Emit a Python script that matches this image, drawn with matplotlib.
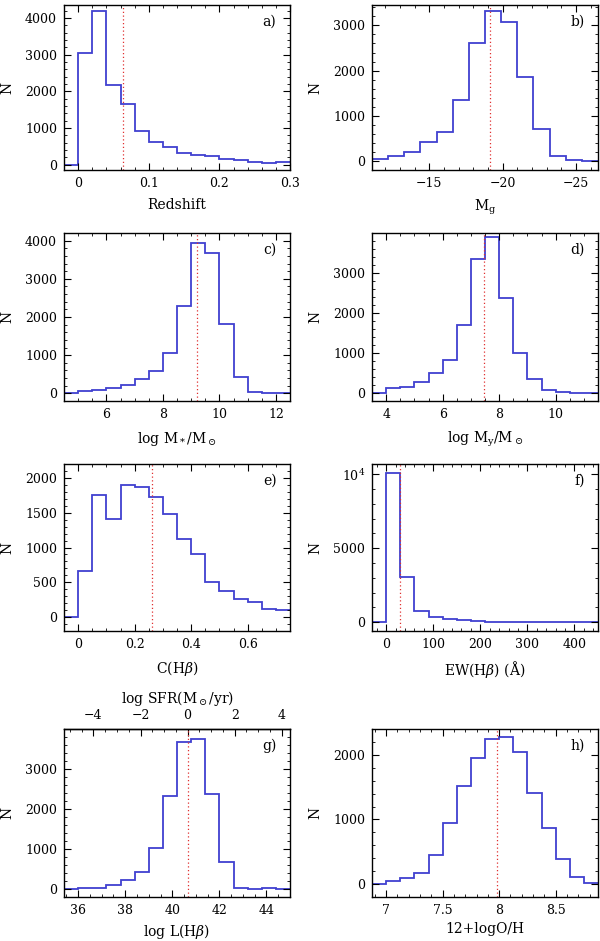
import numpy as np
import matplotlib
matplotlib.use('Agg')
import matplotlib.pyplot as plt
from matplotlib.ticker import MultipleLocator, FuncFormatter, FixedLocator

plt.rcParams['font.family'] = ['DejaVu Serif']
plt.rcParams['mathtext.fontset'] = 'dejavuserif'
plt.rcParams['xtick.direction'] = 'in'
plt.rcParams['ytick.direction'] = 'in'
plt.rcParams['xtick.top'] = True
plt.rcParams['ytick.right'] = True
plt.rcParams['xtick.major.size'] = 5
plt.rcParams['ytick.major.size'] = 5
plt.rcParams['xtick.minor.size'] = 2.5
plt.rcParams['ytick.minor.size'] = 2.5
plt.rcParams['xtick.labelsize'] = 9
plt.rcParams['ytick.labelsize'] = 9
plt.rcParams['axes.labelsize'] = 10
plt.rcParams['axes.linewidth'] = 1.0

# histogram counts (bins: start, width)
z_counts = [0, 3030, 4200, 2180, 1650, 920, 620, 480, 320, 270, 220, 150, 120, 70, 50, 60]
mg_counts = [50, 100, 210, 420, 650, 1360, 2610, 3320, 3080, 1850, 700, 110, 25, 5]
mstar_counts = [0, 70, 80, 130, 210, 370, 580, 1050, 2280, 3940, 3680, 1820, 420, 40, 10, 0]
my_counts = [0, 125, 150, 265, 490, 830, 1700, 3350, 3900, 2380, 1000, 360, 85, 20, 10, 5]
chb_counts = [0, 665, 1750, 1405, 1895, 1865, 1725, 1480, 1120, 900, 510, 380, 265, 215, 110, 100]
ew_counts = [0, 10100, 3070, 770, 320, 200, 115, 50, 30, 20, 15, 12, 10, 8, 6, 5]
lhb_counts = [0, 17, 35, 90, 215, 435, 1010, 2320, 3660, 3750, 2370, 675, 35, 5, 15, 5]
oh_counts = [0, 50, 90, 170, 455, 945, 1510, 1945, 2240, 2270, 2050, 1410, 875, 395, 110, 10]

# bin start and width for each panel
bins = {
    'z': (-0.02, 0.02), 'mg': (-11.1, -1.1), 'mstar': (4.5, 0.5), 'my': (3.5, 0.5),
    'chb': (-0.05, 0.05), 'ew': (-30, 30), 'lhb': (35.4, 0.6), 'oh': (6.875, 0.125),
}
medians = {'z': 0.063, 'mg': -19.15, 'mstar': 9.19, 'my': 7.46,
           'chb': 0.262, 'ew': 30.5, 'lhb': 40.66, 'oh': 7.985}

blue = '#4040d0'
red = '#e03030'


def fmt(v, p):
    s = '%g' % (v + 0.0)
    if s == '-0':
        s = '0'
    return s.replace('-', '\u2212')


fig = plt.figure(figsize=(6, 9.41), dpi=100)

lefts = [0.1067, 0.62]
w = 0.3767
rows = [(0.8193, 0.1753), (0.5739, 0.1785), (0.3294, 0.1775), (0.0468, 0.1785)]

panels = [
    ('z', z_counts, 'Redshift', 'a)', (-0.02, 0.3), (-150, 4350), 0.1, 0.02, 1000, 200),
    ('mg', mg_counts, r'M$_{\rm g}$', 'b)', (-11.1, -26.5), (-200, 3450), 5, 1, 1000, 200),
    ('mstar', mstar_counts, r'log M$_*$/M$_\odot$', 'c)', (4.5, 12.5), (-200, 4200), 2, 0.5, 1000, 200),
    ('my', my_counts, r'log M$_{\rm y}$/M$_\odot$', 'd)', (3.5, 11.5), (-200, 3990), 2, 0.5, 1000, 200),
    ('chb', chb_counts, r'C(H$\beta$)', 'e)', (-0.05, 0.75), (-200, 2200), 0.2, 0.05, 500, 100),
    ('ew', ew_counts, r'EW(H$\beta$) ($\rm\AA$)', 'f)', (-30, 450), (-600, 10700), 100, 20, 5000, 1000),
    ('lhb', lhb_counts, r'log L(H$\beta$)', 'g)', (35.4, 45), (-200, 3990), 2, 0.5, 1000, 200),
    ('oh', oh_counts, '12+logO/H', 'h)', (6.875, 8.875), (-200, 2400), 0.5, 0.1, 1000, 200),
]

for i, (key, counts, xlabel, letter, xlim, ylim, xmaj, xmin, ymaj, ymin) in enumerate(panels):
    row, col = divmod(i, 2)
    b, h = rows[row]
    ax = fig.add_axes([lefts[col], b, w, h])
    start, width = bins[key]
    edges = start + width * np.arange(len(counts) + 1)
    ax.stairs(counts, edges, baseline=None, color=blue, lw=1.3)
    ax.axvline(medians[key], color=red, lw=0.9, ls=(0, (1, 2)))
    ax.set_xlim(*xlim)
    ax.set_ylim(*ylim)
    ax.xaxis.set_major_locator(MultipleLocator(xmaj))
    ax.xaxis.set_minor_locator(MultipleLocator(xmin))
    ax.xaxis.set_major_formatter(FuncFormatter(fmt))
    if key == 'ew':
        ax.yaxis.set_major_locator(FixedLocator([0, 5000, 10000]))
        ax.set_yticklabels(['0', '5000', r'$10^4$'])
    else:
        ax.yaxis.set_major_locator(MultipleLocator(ymaj))
        ax.yaxis.set_major_formatter(FuncFormatter(fmt))
    ax.yaxis.set_minor_locator(MultipleLocator(ymin))
    ax.tick_params(which='both', pad=5)
    ax.set_xlabel(xlabel)
    ax.set_ylabel('N')
    ax.xaxis.set_label_coords(0.5, -0.15 if row == 3 else -0.17)
    ax.yaxis.set_label_coords(-0.22, 0.5)
    ax.text(0.94, 0.90, letter, transform=ax.transAxes, ha='right', va='center', fontsize=10)

    if key == 'lhb':
        ax.tick_params(axis='x', which='both', top=False)
        sec = ax.secondary_xaxis('top', functions=(lambda x: x - 40.65, lambda x: x + 40.65))
        sec.xaxis.set_major_locator(MultipleLocator(2))
        sec.xaxis.set_minor_locator(MultipleLocator(0.5))
        sec.xaxis.set_major_formatter(FuncFormatter(fmt))
        sec.tick_params(which='both', direction='in', pad=5)
        sec.set_xlabel(r'log SFR(M$_\odot$/yr)', labelpad=4)

fig.savefig('out.png', dpi=100)
